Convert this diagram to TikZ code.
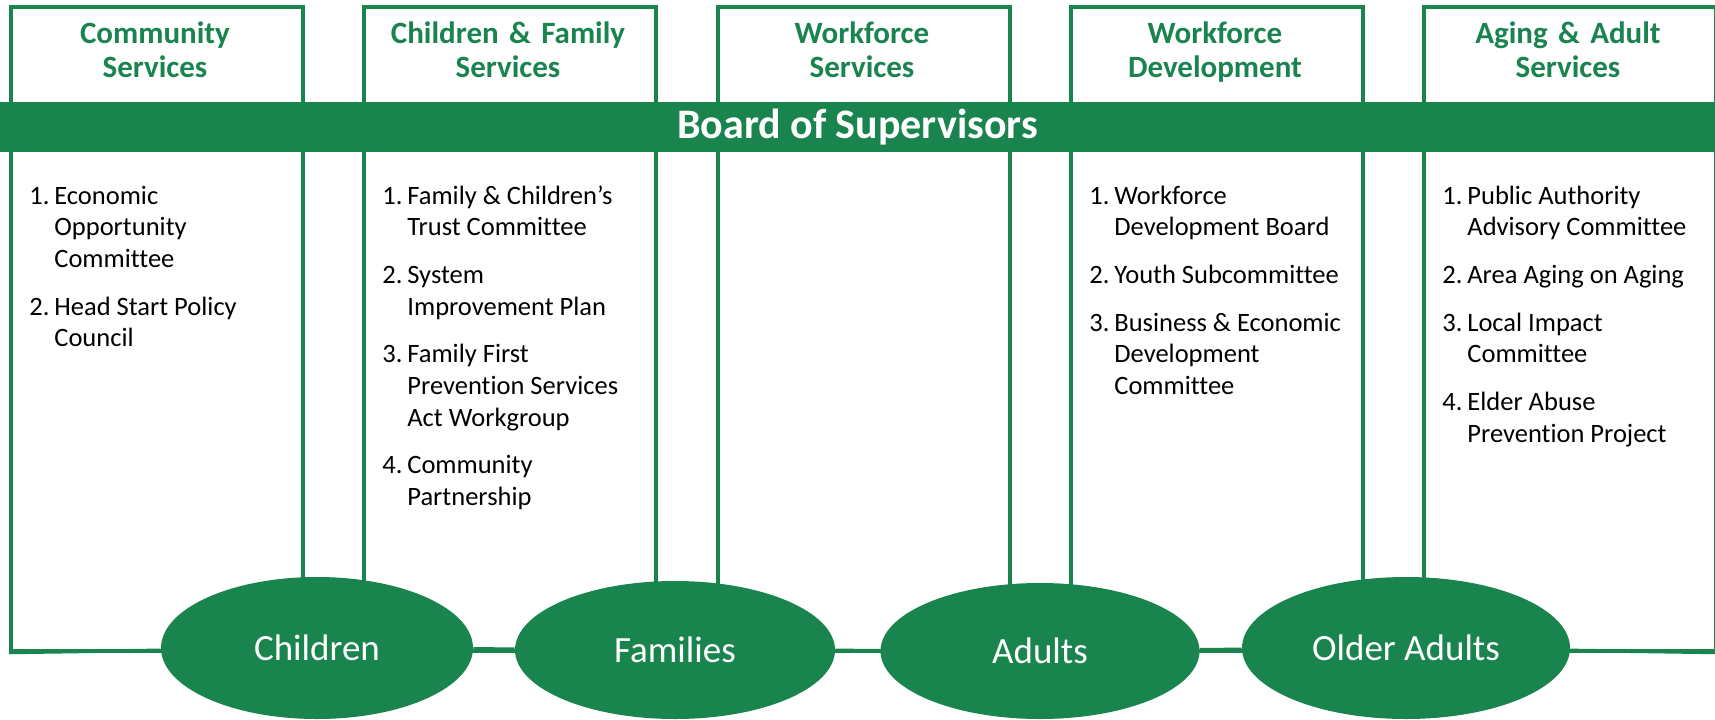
\documentclass[tikz,border=0pt]{standalone}
\usepackage{fontspec}
\setmainfont{Carlito}[Ligatures=NoCommon]
\usetikzlibrary{shapes.geometric}

\definecolor{boardgreen}{RGB}{26,132,78}

\tikzset{
    svcbox/.style={draw=boardgreen, line width=1.75pt, minimum width=146pt,
        minimum height=322pt, anchor=north west, inner sep=0pt},
    svctitle/.style={text=boardgreen, anchor=base, text width=140pt, align=center,
        inner sep=0pt, font=\fontsize{15.5}{17}\selectfont\bfseries},
    itemlist/.style={anchor=base west, inner sep=0pt,
        font=\fontsize{13.25}{15.85}\selectfont},
    band/.style={fill=boardgreen, text=white, minimum width=857.5pt,
        minimum height=25pt, inner sep=0pt, font=\fontsize{21}{25}\selectfont\bfseries},
    group/.style={ellipse, fill=boardgreen, text=white, inner sep=0pt,
        font=\fontsize{18.5}{22}\selectfont},
    link/.style={draw=boardgreen, line width=1.75pt}
}

\begin{document}
\begin{tikzpicture}[x=0.5pt, y=-0.5pt]
\useasboundingbox (0,0) rectangle (1715,719);

%%   service boxes
    \node[svcbox] (comm) at (9, 5) {};
    \node[svcbox] (cfs) at (362, 5) {};
    \node[svcbox] (wfs) at (716, 5) {};
    \node[svcbox] (wfd) at (1069, 5) {};
    \node[svcbox] (aas) at (1422, 5) {};

%%   titles
    \node[svctitle] (comm-t) at (155, 43) {Community\\Services};
    \node[svctitle] (cfs-t) at (508, 43) {Children \& Family\\Services};
    \node[svctitle] (wfs-t) at (862, 43) {Workforce\\Services};
    \node[svctitle] (wfd-t) at (1215, 43) {Workforce\\Development};
    \node[svctitle] (aas-t) at (1568, 43) {Aging \& Adult\\Services};

%%   board
    \node[band] (board) at (857.5, 127) {Board of Supervisors};

%%   committees
    \node[itemlist] (comm-l) at (29, 204) {\begin{tabular}[t]{@{}p{12.5pt}@{}l@{}}
        1. & Economic\\ & Opportunity\\ & Committee\\[8pt]
        2. & Head Start Policy\\ & Council
    \end{tabular}};
    \node[itemlist] (cfs-l) at (382, 204) {\begin{tabular}[t]{@{}p{12.5pt}@{}l@{}}
        1. & Family \& Children’s\\ & Trust Committee\\[8pt]
        2. & System\\ & Improvement Plan\\[8pt]
        3. & Family First\\ & Prevention Services\\ & Act Workgroup\\[8pt]
        4. & Community\\ & Partnership
    \end{tabular}};
    \node[itemlist] (wfd-l) at (1089, 204) {\begin{tabular}[t]{@{}p{12.5pt}@{}l@{}}
        1. & Workforce\\ & Development Board\\[8pt]
        2. & Youth Subcommittee\\[8pt]
        3. & Business \& Economic\\ & Development\\ & Committee
    \end{tabular}};
    \node[itemlist] (aas-l) at (1442, 204) {\begin{tabular}[t]{@{}p{12.5pt}@{}l@{}}
        1. & Public Authority\\ & Advisory Committee\\[8pt]
        2. & Area Aging on Aging\\[8pt]
        3. & Local Impact\\ & Committee\\[8pt]
        4. & Elder Abuse\\ & Prevention Project
    \end{tabular}};

%%   groups served
    \node[group, minimum width=156pt, minimum height=71pt] (children) at (317, 648) {Children};
    \node[group, minimum width=160pt, minimum height=69pt] (families) at (675, 650) {Families};
    \node[group, minimum width=159.5pt, minimum height=68pt] (adults) at (1040, 651) {Adults};
    \node[group, minimum width=164pt, minimum height=71pt] (older) at (1406, 648) {Older Adults};

    \draw[link] (comm.south west) -- (children) -- (families) -- (adults) -- (older) -- (aas.south east);
\end{tikzpicture}
\end{document}
